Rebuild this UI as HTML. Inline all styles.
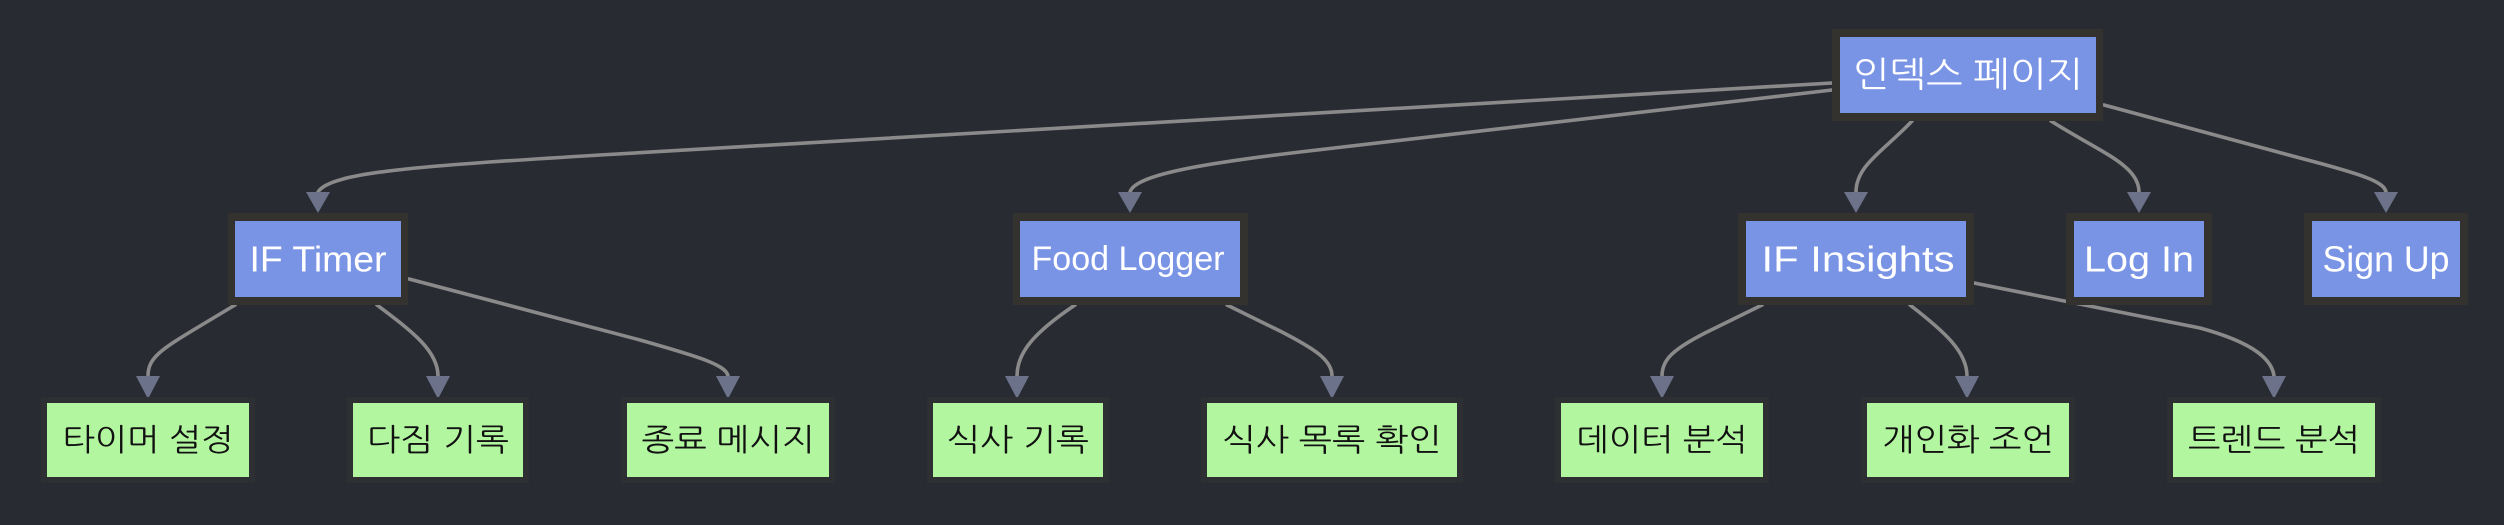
<!DOCTYPE html>
<html>
<head>
<meta charset="utf-8">
<style>
  html, body { margin: 0; padding: 0; background: #292b33; }
  body { width: 2504px; height: 525px; overflow: hidden; }
  svg { display: block; }
  .lat { font-family: "Liberation Sans", "NanumGothic", sans-serif; }
  .kr { font-family: "Liberation Sans", "NanumGothic", "Noto Sans CJK KR", sans-serif; }
</style>
</head>
<body>
<svg width="2504" height="525" viewBox="0 0 2504 525" xmlns="http://www.w3.org/2000/svg">
  <rect x="0" y="0" width="2504" height="525" fill="#292b33"/>

  <!-- edges -->
  <g fill="none" stroke="#8a8a8a" stroke-width="3.6" stroke-linecap="round">
    <path d="M1832,83 L600,155 C420,166 330,172 318,192"/>
    <path d="M1832,90 L1300,152 C1200,164 1135,175 1130,192"/>
    <path d="M1912,121 C1885,150 1856,165 1856,192"/>
    <path d="M2051,121 C2100,152 2139,165 2139,192"/>
    <path d="M2104,105 L2300,158 C2365,175 2384,182 2386,192"/>

    <path d="M235,305 L200,326 C160,350 148,358 148,376"/>
    <path d="M377,305 C410,330 438,350 438,376"/>
    <path d="M409,279 L640,340 C700,357 726,365 728,376"/>

    <path d="M1075,305 C1035,332 1017,352 1017,376"/>
    <path d="M1227,305 L1280,331 C1315,349 1332,360 1332,376"/>

    <path d="M1762,305 L1705,333 C1672,350 1662,360 1662,376"/>
    <path d="M1910,305 C1945,332 1967,352 1967,376"/>
    <path d="M1974,283 L2200,328 C2255,343 2272,360 2274,376"/>
  </g>

  <!-- arrowheads -->
  <g fill="#6b7289">
    <polygon points="306,192 330,192 318,213"/>
    <polygon points="1118,192 1142,192 1130,213"/>
    <polygon points="1844,192 1868,192 1856,213"/>
    <polygon points="2127,192 2151,192 2139,213"/>
    <polygon points="2374,192 2398,192 2386,213"/>

    <polygon points="136,376 160,376 148,399"/>
    <polygon points="426,376 450,376 438,399"/>
    <polygon points="716,376 740,376 728,399"/>
    <polygon points="1005,376 1029,376 1017,399"/>
    <polygon points="1320,376 1344,376 1332,399"/>
    <polygon points="1650,376 1674,376 1662,399"/>
    <polygon points="1955,376 1979,376 1967,399"/>
    <polygon points="2262,376 2286,376 2274,399"/>
  </g>

  <!-- blue nodes -->
  <g>
    <rect x="1832" y="29" width="271" height="92" fill="#33322f"/>
    <rect x="1840" y="37" width="256" height="76" fill="#7a94e5"/>

    <rect x="228" y="213" width="180" height="92" fill="#33322f"/>
    <rect x="235" y="221" width="166" height="76" fill="#7a94e5"/>

    <rect x="1013" y="213" width="235" height="92" fill="#33322f"/>
    <rect x="1020" y="221" width="220" height="76" fill="#7a94e5"/>

    <rect x="1738" y="213" width="236" height="92" fill="#33322f"/>
    <rect x="1746" y="221" width="220" height="76" fill="#7a94e5"/>

    <rect x="2066" y="213" width="146" height="92" fill="#33322f"/>
    <rect x="2074" y="221" width="130" height="76" fill="#7a94e5"/>

    <rect x="2304" y="213" width="164" height="92" fill="#33322f"/>
    <rect x="2312" y="221" width="148" height="76" fill="#7a94e5"/>
  </g>

  <!-- green nodes -->
  <g>
    <rect x="41" y="397" width="214" height="86" fill="#2e2f32"/>
    <rect x="47" y="403" width="202" height="74" fill="#b3f6a0"/>

    <rect x="347" y="397" width="182" height="86" fill="#2e2f32"/>
    <rect x="353" y="403" width="170" height="74" fill="#b3f6a0"/>

    <rect x="621" y="397" width="214" height="86" fill="#2e2f32"/>
    <rect x="627" y="403" width="202" height="74" fill="#b3f6a0"/>

    <rect x="927" y="397" width="182" height="86" fill="#2e2f32"/>
    <rect x="933" y="403" width="170" height="74" fill="#b3f6a0"/>

    <rect x="1201" y="397" width="262" height="86" fill="#2e2f32"/>
    <rect x="1207" y="403" width="250" height="74" fill="#b3f6a0"/>

    <rect x="1555" y="397" width="214" height="86" fill="#2e2f32"/>
    <rect x="1561" y="403" width="202" height="74" fill="#b3f6a0"/>

    <rect x="1861" y="397" width="214" height="86" fill="#2e2f32"/>
    <rect x="1867" y="403" width="202" height="74" fill="#b3f6a0"/>

    <rect x="2167" y="397" width="214" height="86" fill="#2e2f32"/>
    <rect x="2173" y="403" width="202" height="74" fill="#b3f6a0"/>
  </g>

  <!-- blue labels -->
  <g fill="#ffffff" text-anchor="middle" dominant-baseline="central">
    <text class="kr" x="1968" y="75" font-size="35" textLength="230" lengthAdjust="spacingAndGlyphs">인덱스 페이지</text>
    <text class="lat" x="318" y="259" font-size="36" textLength="137" lengthAdjust="spacingAndGlyphs">IF Timer</text>
    <text class="lat" x="1128" y="259" font-size="34" textLength="193" lengthAdjust="spacingAndGlyphs">Food Logger</text>
    <text class="lat" x="1858" y="259" font-size="36" textLength="193" lengthAdjust="spacingAndGlyphs">IF Insights</text>
    <text class="lat" x="2139" y="259" font-size="36" textLength="110" lengthAdjust="spacingAndGlyphs">Log In</text>
    <text class="lat" x="2386" y="259" font-size="36" textLength="127" lengthAdjust="spacingAndGlyphs">Sign Up</text>
  </g>

  <!-- green labels -->
  <g fill="#111111" text-anchor="middle" dominant-baseline="central" font-size="31" class="kr">
    <text class="kr" x="148" y="440" textLength="171" lengthAdjust="spacingAndGlyphs">타이머 설정</text>
    <text class="kr" x="438" y="440" textLength="142" lengthAdjust="spacingAndGlyphs">다짐 기록</text>
    <text class="kr" x="728" y="440" textLength="173" lengthAdjust="spacingAndGlyphs">종료 메시지</text>
    <text class="kr" x="1018" y="440" textLength="142" lengthAdjust="spacingAndGlyphs">식사 기록</text>
    <text class="kr" x="1332" y="440" textLength="219" lengthAdjust="spacingAndGlyphs">식사 목록 확인</text>
    <text class="kr" x="1662" y="440" textLength="171" lengthAdjust="spacingAndGlyphs">데이터 분석</text>
    <text class="kr" x="1968" y="440" textLength="172" lengthAdjust="spacingAndGlyphs">개인화 조언</text>
    <text class="kr" x="2274" y="440" textLength="172" lengthAdjust="spacingAndGlyphs">트렌드 분석</text>
  </g>
</svg>
</body>
</html>
